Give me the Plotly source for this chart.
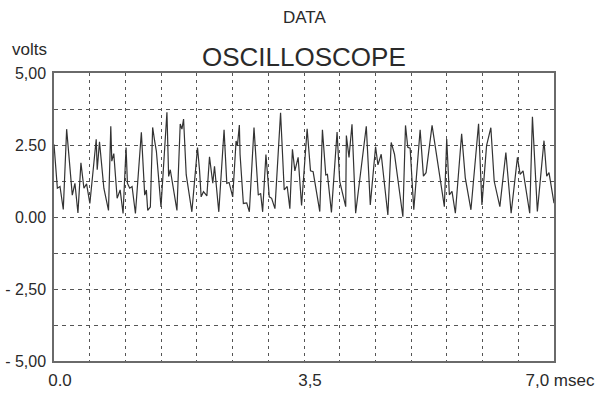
import plotly.graph_objects as go

# ---- data ----
time_ms = [0.000, 0.047, 0.084, 0.130, 0.177, 0.256, 0.293, 0.335, 0.377, 0.419,
           0.456, 0.502, 0.591, 0.605, 0.637, 0.698, 0.763, 0.795, 0.809, 0.837,
           0.884, 0.926, 0.967, 1.009, 1.028, 1.060, 1.093, 1.140, 1.223, 1.270,
           1.293, 1.312, 1.349, 1.381, 1.409, 1.433, 1.498, 1.581, 1.605, 1.628,
           1.721, 1.767, 1.791, 1.814, 1.851, 1.930, 2.009, 2.037, 2.060, 2.093,
           2.140, 2.177, 2.223, 2.247, 2.307, 2.381, 2.419, 2.451, 2.502, 2.549,
           2.567, 2.595, 2.605, 2.651, 2.698, 2.735, 2.800, 2.860, 2.893, 2.921,
           2.967, 3.014, 3.047, 3.093, 3.172, 3.223, 3.265, 3.302, 3.338, 3.372,
           3.418, 3.466, 3.544, 3.591, 3.628, 3.721, 3.758, 3.805, 3.828, 3.884,
           3.963, 4.000, 4.084, 4.093, 4.130, 4.172, 4.223, 4.372, 4.428, 4.502,
           4.535, 4.581, 4.674, 4.721, 4.767, 4.884, 4.921, 4.953, 4.986, 5.037,
           5.126, 5.172, 5.209, 5.293, 5.465, 5.498, 5.535, 5.572, 5.619, 5.707,
           5.758, 5.837, 5.944, 5.991, 6.056, 6.116, 6.163, 6.242, 6.326, 6.400,
           6.488, 6.526, 6.567, 6.660, 6.698, 6.767, 6.860, 6.898, 6.930, 7.000]
volts = [2.52, 1.00, 1.06, 0.26, 3.05, 0.76, 1.17, 0.14, 1.88, 1.00,
         1.15, 0.47, 2.70, 1.64, 2.61, 1.00, 0.23, 3.15, 1.94, 2.20,
         0.65, 0.94, 0.12, 2.41, 1.17, 1.00, 1.06, 0.12, 2.94, 0.76,
         0.94, 0.23, 0.35, 3.11, 2.64, 2.29, 0.35, 3.64, 1.41, 1.64,
         0.23, 3.23, 3.05, 3.40, 1.47, 0.18, 2.41, 1.64, 0.70, 0.88,
         0.73, 2.09, 1.17, 1.76, 0.18, 3.03, 1.17, 1.20, 0.70, 2.64,
         2.47, 3.19, 2.17, 0.47, 0.49, 0.18, 3.11, 0.76, 0.82, 0.18,
         2.17, 0.70, 0.65, 0.29, 3.62, 0.94, 1.06, 0.29, 2.35, 1.60,
         2.07, 0.40, 3.06, 1.60, 1.57, 0.19, 3.03, 1.46, 1.48, 0.16,
         2.95, 1.24, 0.36, 2.83, 2.07, 3.22, 0.13, 3.15, 0.42, 2.44,
         1.81, 2.18, 0.07, 2.59, 2.18, 0.01, 3.18, 2.42, 2.39, 0.25,
         3.03, 1.42, 1.54, 3.18, 0.36, 2.71, 0.77, 0.89, 0.13, 2.89,
         1.36, 0.25, 3.24, 0.42, 2.48, 3.10, 1.24, 0.36, 2.24, 0.13,
         2.07, 1.48, 1.60, 0.13, 3.48, 0.19, 2.65, 1.42, 1.54, 0.48]

x_tick_vals = [0, 3.5, 7]
x_tick_text = ["0.0", "3,5", "7,0 msec"]
y_tick_vals = [-5, -2.5, 0, 2.5, 5]
y_tick_text = ["- 5,00", "- 2,50", "0.00", "2.50", "5,00"]

FONT = "Liberation Sans, Arial, Helvetica, sans-serif"
INK = "#2a2a2a"
GRID = "#555555"

W, H = 614, 395
L, R, T, B = 54, 60, 73, 34
pw, ph = W - L - R, H - T - B


def ypix(py):
    return (H - B - py) / ph


def xpix(px):
    return (px - L) / pw


fig = go.Figure()
fig.add_trace(go.Scatter(x=time_ms, y=volts, mode="lines",
                         line=dict(color="#333333", width=1.2),
                         hoverinfo="skip", showlegend=False))

fig.update_layout(
    width=W, height=H,
    margin=dict(l=L, r=R, t=T, b=B, autoexpand=False),
    paper_bgcolor="white", plot_bgcolor="white",
    font=dict(family=FONT, color=INK, size=16),
    showlegend=False,
    annotations=[
        dict(text="DATA", x=0.5, y=ypix(18), xref="paper", yref="paper",
             xanchor="center", yanchor="middle", showarrow=False,
             font=dict(size=17, family=FONT, color=INK)),
        dict(text="OSCILLOSCOPE", x=0.5, y=ypix(57), xref="paper", yref="paper",
             xanchor="center", yanchor="middle", showarrow=False,
             font=dict(size=26, family=FONT, color=INK)),
        dict(text="volts", x=xpix(10), y=ypix(50), xref="paper", yref="paper",
             xanchor="left", yanchor="middle", showarrow=False,
             font=dict(size=17, family=FONT, color=INK)),
    ],
)

fig.update_xaxes(
    range=[0, 7], tickvals=x_tick_vals, ticktext=x_tick_text,
    ticks="", ticklabelshift=6, ticklabelstandoff=3, automargin=False,
    showline=True, mirror=True, linecolor="#6a6a6a", linewidth=1.5,
    showgrid=True, gridcolor=GRID, gridwidth=1, griddash="3px,4px",
    minor=dict(dtick=0.5, tick0=0, showgrid=True, gridcolor=GRID,
               gridwidth=1, griddash="3px,4px", ticks=""),
    zeroline=False, tickfont=dict(size=17, family=FONT, color=INK),
)
fig.update_yaxes(
    range=[-5, 5], tickvals=y_tick_vals, ticktext=y_tick_text,
    ticks="", ticklabelstandoff=3, automargin=False,
    showline=True, mirror=True, linecolor="#6a6a6a", linewidth=1.5,
    showgrid=True, gridcolor=GRID, gridwidth=1, griddash="4px,4px",
    minor=dict(dtick=1.25, tick0=0, showgrid=True, gridcolor=GRID,
               gridwidth=1, griddash="4px,4px", ticks=""),
    zeroline=False, tickfont=dict(size=16, family=FONT, color=INK),
)

fig.write_html("out.html",
               config={"displayModeBar": False},
               post_script="document.body.style.margin='0px';"
                           "document.body.style.overflow='hidden';")
